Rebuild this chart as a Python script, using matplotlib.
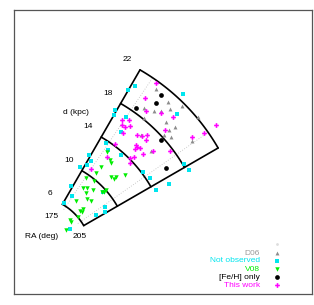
import numpy as np
import matplotlib
matplotlib.use("Agg")
import matplotlib.pyplot as plt

plt.rcParams['font.family'] = ['Liberation Sans', 'DejaVu Sans']

# ---- data: RA (deg) and distance d (kpc) ----
not_obs_ra = [176, 175, 174.5, 175, 179, 180.5, 178, 180.5, 186.5, 174, 176.5, 176, 173, 174, 178.5,
              176, 193, 201.5, 204.5, 202.5, 199.5, 198, 201.5, 207, 207.5, 204, 206.5, 190.5, 188]
not_obs_d = [20.3, 19.6, 17.1, 16.6, 17.1, 15.6, 13.7, 13.2, 13.7, 11.8, 11.3, 10.8, 10.2, 8.1, 7.3,
             6.2, 9.7, 8.9, 8.6, 7.7, 4.6, 14.2, 14.4, 14.3, 15.8, 18.1, 18.3, 20.7, 22.6]

v08_ra = [180.5, 184, 185, 182.5, 182.5, 179.5, 184.5, 190, 192, 191.5, 194, 181.5, 184, 188,
          185.5, 189, 192, 183.5, 192.5, 193.5, 193.5, 191.5, 194, 192.5, 195, 191.5, 194, 198]
v08_d = [13.0, 12.6, 12.4, 11.4, 10.6, 9.6, 9.9, 11.4, 11.4, 11.7, 12.5, 8.6, 8.8, 9.1,
         8.3, 8.0, 8.1, 7.1, 9.6, 9.8, 10.0, 6.6, 6.7, 6.9, 6.0, 5.2, 5.2, 4.2]

this_ra = [180.5, 180.5, 183, 187, 190.5, 191.5, 178.5, 180.5, 179.5, 180.5, 182, 181.5, 181.5, 186,
           187.5, 188.5, 189.5, 188, 189, 190, 189, 192.5, 194, 190, 191, 191.5, 179, 182,
           198, 198.5, 199.5, 199.5]
this_d = [21.8, 19.9, 18.8, 19.7, 20.2, 18.7, 16.6, 17.0, 16.2, 16.2, 16.6, 15.6, 14.2, 16.3,
          16.6, 17.0, 16.6, 15.5, 15.4, 15.6, 15.1, 15.3, 16.3, 14.1, 14.5, 13.7, 10.6, 12.6,
          17.7, 20.4, 21.6, 23.1]

d06_ra = [181.5, 186.5, 190, 182, 185, 186.5, 188, 195, 184, 190, 193, 192.5, 194.5, 192.5,
          199.5, 187, 193.5]
d06_d = [21.3, 21.0, 21.7, 18.9, 19.3, 19.8, 20.6, 22.1, 18.2, 19.3, 19.6, 19.0, 18.7, 18.3,
         20.1, 16.6, 16.2]

feh_ra = [183.6, 184.0, 180.0, 193.1, 201.9]
feh_d = [21.08, 20.09, 18.42, 17.7, 16.29]

ra_min, ra_max = 175, 205
d_ticks = [6, 10, 14, 18, 22]
dotted_ra = [179, 200]

legend_labels = ["D06", "Not observed", "V08", "[Fe/H] only", "This work"]


def xy(ra, d):
    t = np.radians(235.0 - np.asarray(ra, float))
    d = np.asarray(d, float)
    return d * np.cos(t), d * np.sin(t)


fig = plt.figure(figsize=(3.14, 3.05), dpi=100)
ax = fig.add_axes([14 / 314, 11 / 305, 298 / 314, 284 / 305])
k = 9.7
ax.set_xlim(-19.3 / k, 278.7 / k)
ax.set_ylim(-39.3 / k, 244.7 / k)
ax.set_xticks([])
ax.set_yticks([])
for s in ax.spines.values():
    s.set_color('#555555')
    s.set_linewidth(0.9)

# dotted guide lines
for r in dotted_ra:
    x, y = xy([r, r], [5.6, 22.1])
    ax.plot(x, y, ls=(0, (1, 2)), color='#bbbbbb', lw=0.6, zorder=1)

# arcs
ras = np.linspace(ra_min, ra_max, 100)
for dt in d_ticks:
    x, y = xy(ras, np.full_like(ras, dt))
    ax.plot(x, y, color='black', lw=1.2, zorder=2, solid_capstyle='round')
for r in (ra_min, ra_max):
    x, y = xy([r, r], [d_ticks[0], d_ticks[-1]])
    ax.plot(x, y, color='black', lw=1.2, zorder=2, solid_capstyle='round')

# points
ms = dict(linestyle='none', zorder=3)
x, y = xy(d06_ra, d06_d)
ax.plot(x, y, marker='^', color='#8c8c8c', markersize=2.8, markeredgewidth=0, **ms)
x, y = xy(not_obs_ra, not_obs_d)
ax.plot(x, y, marker='s', color='#00e5ee', markersize=3.4, markeredgewidth=0, **ms)
x, y = xy(v08_ra, v08_d)
ax.plot(x, y, marker='v', color='#00ee00', markersize=3.2, markeredgewidth=0, **ms)
x, y = xy(feh_ra, feh_d)
ax.plot(x, y, marker='o', color='black', markersize=3.4, markeredgewidth=0, **ms)
x, y = xy(this_ra, this_d)
ax.plot(x, y, marker='P', color='#ff00ff', markersize=3.4, markeredgewidth=0, **ms)

# distance labels
fs = 6
for dt in d_ticks:
    x, y = xy(ra_min, dt)
    ax.annotate(str(dt), (x, y), xytext=(-9.3, 7.5), textcoords='offset points',
                ha='center', va='center', fontsize=fs)
ax.annotate('d (kpc)', xy(ra_min, d_ticks[-1]), xytext=(-46, -31), textcoords='offset points',
            ha='center', va='center', fontsize=fs)
x, y = xy(ra_min, d_ticks[0])
ax.annotate(str(ra_min), (x, y), xytext=(-7.7, -8.9), textcoords='offset points',
            ha='center', va='center', fontsize=fs)
x, y = xy(ra_max, d_ticks[0])
ax.annotate(str(ra_max), (x, y), xytext=(-2.7, -8.0), textcoords='offset points',
            ha='center', va='center', fontsize=fs)
ax.annotate('RA (deg)', (x, y), xytext=(-30.2, -8.0), textcoords='offset points',
            ha='center', va='center', fontsize=fs)

# legend (manual, gnuplot style)
leg_colors = ['#8c8c8c', '#00e5ee', '#00ee00', 'black', '#ff00ff']
leg_markers = ['^', 's', 'v', 'o', 'P']
leg_sizes = [2.8, 3.4, 3.2, 3.4, 3.4]
ys = [0.1433, 0.1162, 0.0880, 0.0585, 0.0300]
ax.plot([0.8815], [0.175], marker='o', color='#dddddd', markersize=1, transform=ax.transAxes,
        linestyle='none')
for lab, c, m, s, yy in zip(legend_labels, leg_colors, leg_markers, leg_sizes, ys):
    tc = '#999999' if lab == 'D06' else c
    ax.text(0.8255, yy, lab, color=tc, fontsize=fs, ha='right', va='center', transform=ax.transAxes)
    ax.plot([0.8815], [yy], marker=m, color=c, markersize=s, markeredgewidth=0,
            transform=ax.transAxes, linestyle='none')

fig.savefig('out.png', dpi=100)
